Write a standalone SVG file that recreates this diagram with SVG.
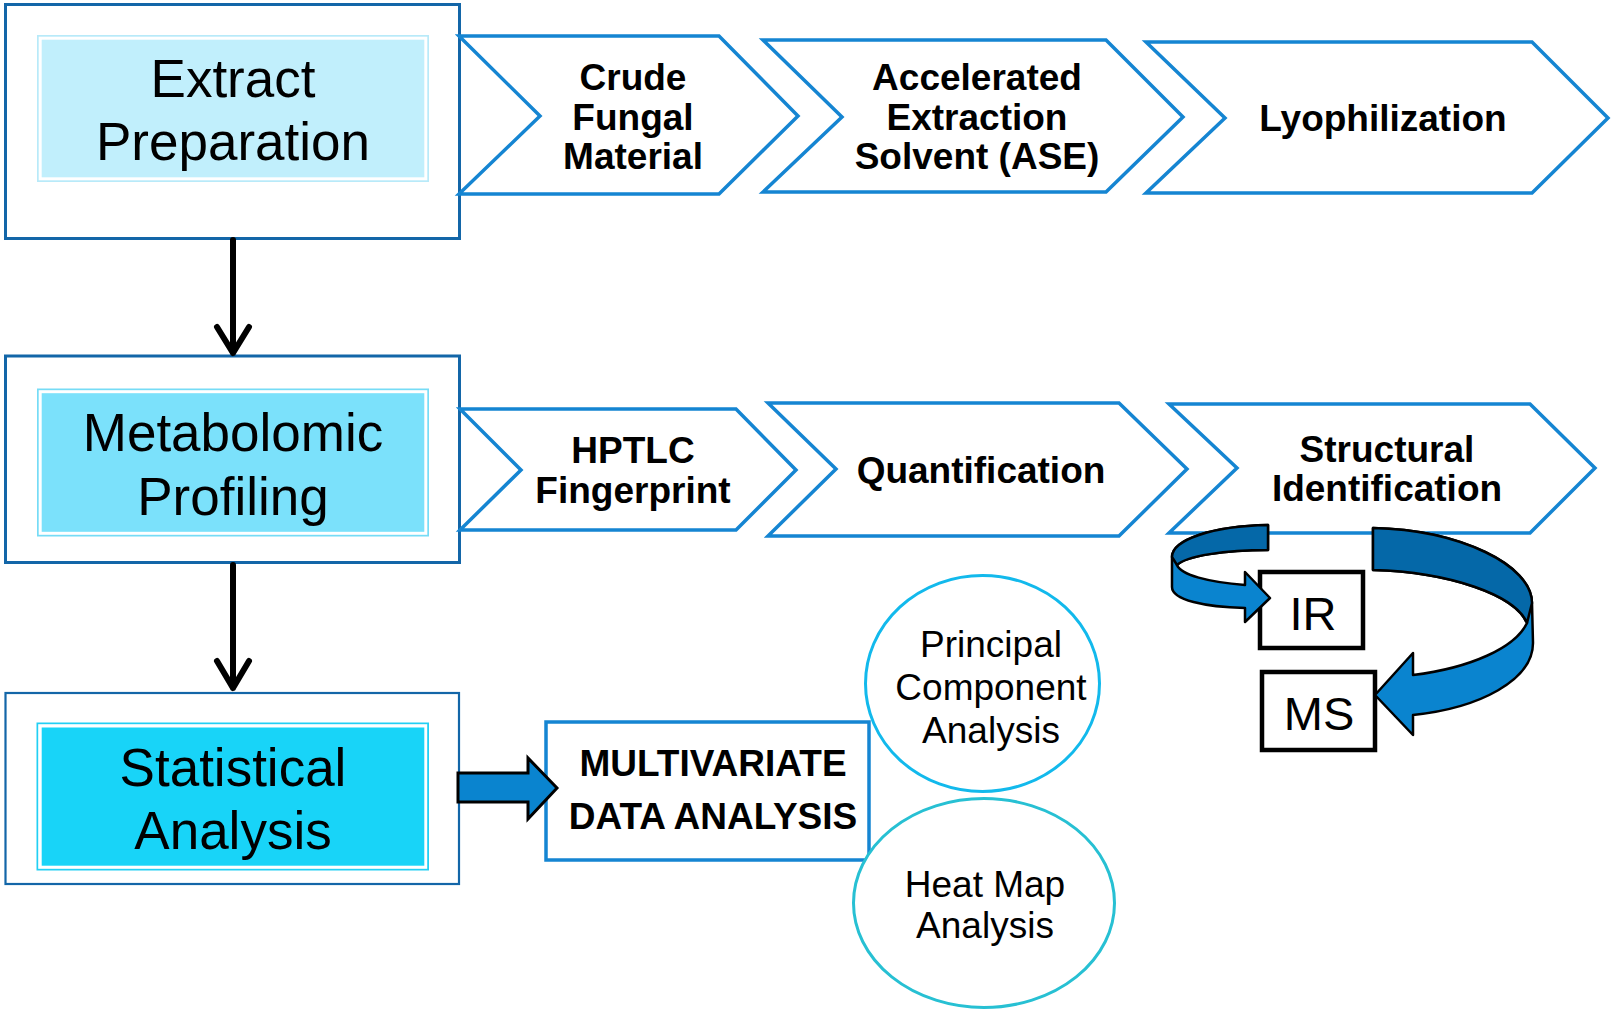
<svg xmlns="http://www.w3.org/2000/svg" width="1611" height="1011" viewBox="0 0 1611 1011">
<style>
.outer{fill:#fff;stroke:#1366A8;stroke-width:3}
.chev{fill:#fff;stroke:#1585D2;stroke-width:3.5;stroke-linejoin:miter}
.big{font-family:"Liberation Sans",Arial,sans-serif;font-size:53px;fill:#000;text-anchor:middle}
.bold{font-family:"Liberation Sans",Arial,sans-serif;font-size:37px;font-weight:bold;fill:#000;text-anchor:middle}
.reg{font-family:"Liberation Sans",Arial,sans-serif;font-size:37px;fill:#000;text-anchor:middle}
.box{fill:#fff;stroke:#000;stroke-width:4.5}
.ribbon{fill:#0A84CF;stroke:#000;stroke-width:2.5;stroke-linejoin:round}
.ribbonback{fill:#0568A8;stroke:#000;stroke-width:2.5;stroke-linejoin:round}
.conn{fill:none;stroke:#000;stroke-width:6;stroke-linecap:round;stroke-linejoin:round}
</style>

<g id="extract-preparation">
<rect class="outer" x="5.5" y="4.5" width="454" height="234"/>
<rect x="37" y="35" width="392" height="147" fill="#B8EAF9"/>
<rect x="38.7" y="36.7" width="388.6" height="143.6" fill="#fff"/>
<rect x="41.7" y="39.7" width="382.6" height="137.6" fill="#C1EFFC"/>
<text class="big" x="233" y="97">Extract</text>
<text class="big" x="233" y="160">Preparation</text>
</g>

<g id="crude-fungal-material">
<polygon class="chev" points="459,36 719,36 798,116 719,194 459,194 540,116"/>
<text class="bold" x="633" y="89.5">Crude</text>
<text class="bold" x="633" y="129.5">Fungal</text>
<text class="bold" x="633" y="169">Material</text>
</g>

<g id="ase">
<polygon class="chev" points="763,40 1106,40 1183,117 1106,192 763,192 842,117"/>
<text class="bold" x="977" y="89.5">Accelerated</text>
<text class="bold" x="977" y="129.5">Extraction</text>
<text class="bold" x="977" y="169">Solvent (ASE)</text>
</g>

<g id="lyophilization">
<polygon class="chev" points="1146,42 1532,42 1608,118 1532,193 1146,193 1225,118"/>
<text class="bold" x="1383" y="131">Lyophilization</text>
</g>

<g id="metabolomic-profiling">
<rect class="outer" x="5.5" y="356" width="454" height="206.5"/>
<rect x="37" y="388.5" width="392" height="148" fill="#76DCF6"/>
<rect x="38.7" y="390.2" width="388.6" height="144.6" fill="#fff"/>
<rect x="41.7" y="393.2" width="382.6" height="138.6" fill="#7BE1FB"/>
<text class="big" x="233" y="451">Metabolomic</text>
<text class="big" x="233" y="515">Profiling</text>
</g>

<g id="hptlc">
<polygon class="chev" points="460,409 736,409 796,470 736,530 460,530 521,470"/>
<text class="bold" x="633" y="462.5">HPTLC</text>
<text class="bold" x="633" y="502.5">Fingerprint</text>
</g>

<g id="quantification">
<polygon class="chev" points="768,403 1119,403 1187,469 1119,536 768,536 836,469"/>
<text class="bold" x="981" y="483">Quantification</text>
</g>

<g id="structural-identification">
<polygon class="chev" points="1169,404 1530,404 1595,468 1530,533 1169,533 1237,468"/>
<text class="bold" x="1387" y="461.5">Structural</text>
<text class="bold" x="1387" y="500.5">Identification</text>
</g>

<g id="ir">
<rect class="box" x="1260" y="572" width="103" height="76"/>
<text class="reg" x="1313" y="630" style="font-size:47px">IR</text>
</g>

<g id="ms">
<rect class="box" x="1262" y="672" width="113" height="78"/>
<text class="reg" x="1319" y="730" style="font-size:47px">MS</text>
</g>

<g id="statistical-analysis">
<rect x="5.5" y="693" width="453.5" height="191" fill="#fff" stroke="#1366A8" stroke-width="2.2"/>
<rect x="36.5" y="722.5" width="392.5" height="148" fill="#22CFF4"/>
<rect x="38.2" y="724.2" width="389" height="144.6" fill="#fff"/>
<rect x="41.7" y="727.5" width="382.6" height="138.2" fill="#18D4F8"/>
<text class="big" x="233" y="786">Statistical</text>
<text class="big" x="233" y="849">Analysis</text>
</g>

<g id="multivariate-data-analysis">
<rect x="546" y="722" width="323" height="138" fill="#fff" stroke="#1585D2" stroke-width="3.5"/>
<text class="bold" x="713" y="776">MULTIVARIATE</text>
<text class="bold" x="713" y="829">DATA ANALYSIS</text>
</g>

<g id="pca">
<ellipse cx="982.5" cy="683.5" rx="117" ry="108" fill="#fff" stroke="#12B9EC" stroke-width="3"/>
<text class="reg" x="991" y="657">Principal</text>
<text class="reg" x="991" y="700">Component</text>
<text class="reg" x="991" y="743">Analysis</text>
</g>

<g id="heat-map">
<ellipse cx="984" cy="903" rx="130.5" ry="104.5" fill="#fff" stroke="#27C0D3" stroke-width="3"/>
<text class="reg" x="985" y="897">Heat Map</text>
<text class="reg" x="985" y="938">Analysis</text>
</g>

<g id="connectors">
<path class="conn" d="M233,240 L233,353 M217,327 L233,353 L249,327"/>
<path class="conn" d="M233,565 L233,688 M217,661 L233,688 L249,661"/>
<polygon points="458,773 528,773 528,758 557,788 528,819 528,802 458,802" fill="#0A84CF" stroke="#000" stroke-width="3" stroke-linejoin="miter"/>
<path class="ribbon" d="M1268,525 C1212,526 1172,540 1172,557 L1172,587 C1172,600 1205,607 1245,608 L1245,622 L1270,598 L1245,572 L1245,585 C1208,582 1181,575 1177,565 C1186,556 1225,550 1268,550 Z"/>
<path class="ribbonback" d="M1268,525 C1212,526 1172,540 1172,557 L1177,565 C1186,556 1225,550 1268,550 Z"/>
<path class="ribbon" d="M1373,528 C1460,530 1532,565 1532,603 L1533,643 C1533,680 1480,708 1413,715 L1413,735 L1375,695 L1413,653 L1413,675 C1470,668 1515,648 1527,623 C1515,595 1450,572 1373,570 Z"/>
<path class="ribbonback" d="M1373,528 C1460,530 1532,565 1532,603 L1527,623 C1515,595 1450,572 1373,570 Z"/>
</g>
</svg>
